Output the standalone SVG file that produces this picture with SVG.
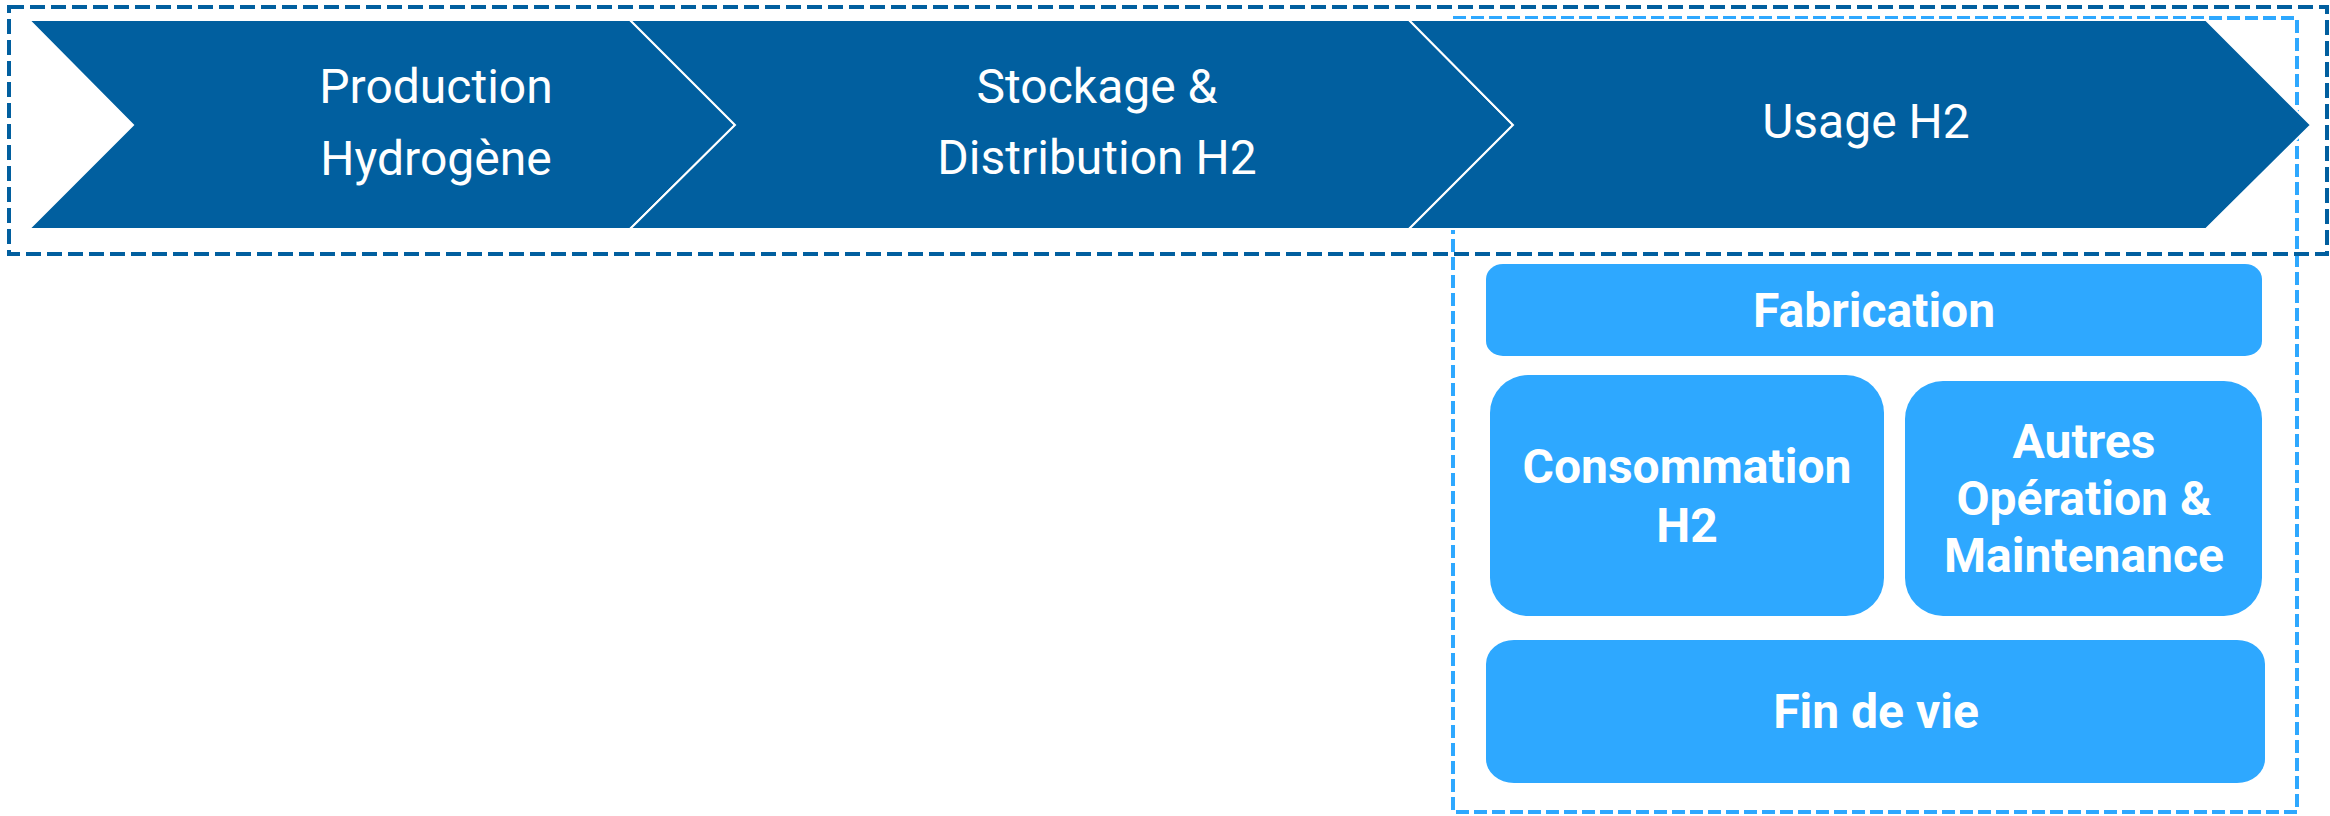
<svg xmlns="http://www.w3.org/2000/svg" width="2330" height="816" viewBox="0 0 2330 816">
  <style>
    .stage { fill: #015F9F; stroke: #FFFFFF; stroke-width: 2; stroke-linejoin: miter; }
    .stage-label { font-family: Roboto, "Liberation Sans", sans-serif; font-size: 48px; fill: #FFFFFF; text-anchor: middle; }
    .step { fill: #2EA8FF; }
    .step-label { font-family: Roboto, "Liberation Sans", sans-serif; font-size: 48px; font-weight: bold; fill: #FFFFFF; text-anchor: middle; }
    .frame-chain { fill: none; stroke: #015F9F; stroke-width: 4; stroke-dasharray: 15 6; }
    .frame-usage { fill: none; stroke: #2EA8FF; stroke-width: 4; stroke-dasharray: 13 5; }
  </style>

  <!-- group outlines -->
  <g id="frames">
    <rect class="frame-usage" x="1453" y="18" width="844" height="794"/>
    <rect class="frame-chain" x="9" y="7" width="2318" height="247"/>
  </g>

  <!-- value chain stages -->
  <g id="stage-production">
    <polygon class="stage" points="29,20 630,20 735,125 630,229 29,229 133,125"/>
    <text class="stage-label" x="436" y="103">Production</text>
    <text class="stage-label" x="436" y="175">Hydrogène</text>
  </g>
  <g id="stage-stockage">
    <polygon class="stage" points="630,20 1409,20 1513,125 1409,229 630,229 735,125"/>
    <text class="stage-label" x="1097" y="103">Stockage &amp;</text>
    <text class="stage-label" x="1097" y="174">Distribution H2</text>
  </g>
  <g id="stage-usage">
    <polygon class="stage" points="1409,20 2206,20 2311,125 2206,229 1409,229 1513,125"/>
    <text class="stage-label" x="1866" y="138">Usage H2</text>
  </g>

  <!-- usage breakdown -->
  <g id="step-fabrication">
    <rect class="step" x="1486" y="264" width="776" height="92" rx="17" ry="15"/>
    <text class="step-label" x="1874" y="327">Fabrication</text>
  </g>
  <g id="step-consommation">
    <rect class="step" x="1490" y="375" width="394" height="241" rx="38" ry="38"/>
    <text class="step-label" x="1687" y="483">Consommation</text>
    <text class="step-label" x="1687" y="542">H2</text>
  </g>
  <g id="step-autres">
    <rect class="step" x="1905" y="381" width="357" height="235" rx="38" ry="38"/>
    <text class="step-label" x="2084" y="458">Autres</text>
    <text class="step-label" x="2084" y="515">Opération &amp;</text>
    <text class="step-label" x="2084" y="572">Maintenance</text>
  </g>
  <g id="step-fin-de-vie">
    <rect class="step" x="1486" y="640" width="779" height="143" rx="28" ry="24"/>
    <text class="step-label" x="1876" y="728">Fin de vie</text>
  </g>

  <g id="connectors"/>
</svg>
